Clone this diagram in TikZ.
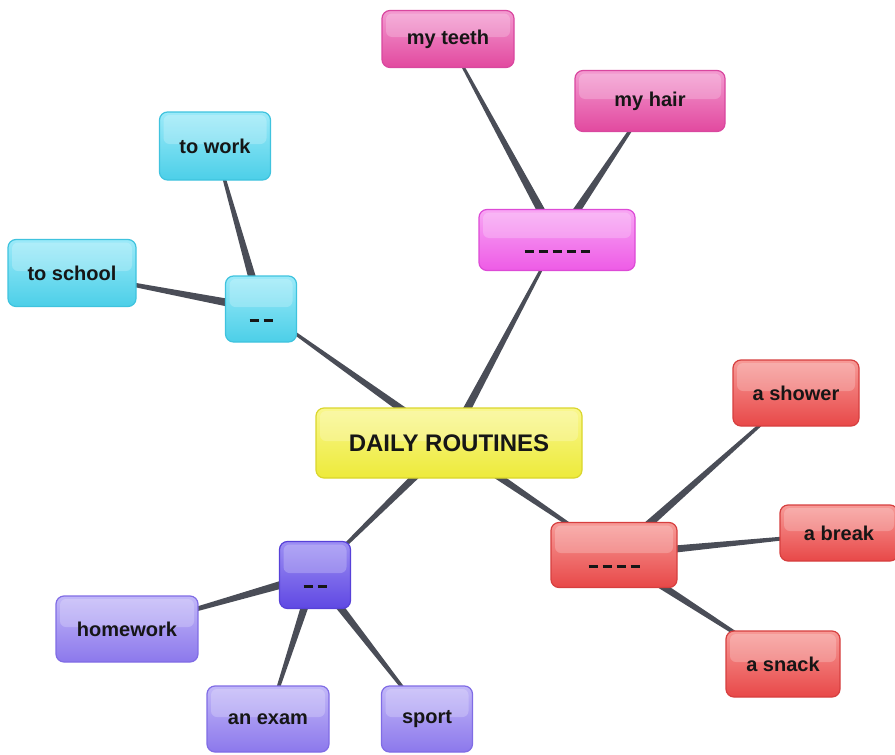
\documentclass[tikz,border=0pt]{standalone}
\usepackage{fontspec}
\setmainfont{Liberation Sans}
\usetikzlibrary{calc,backgrounds}
\definecolor{linkcol}{HTML}{4A4D57}
\definecolor{txtcol}{HTML}{161616}
\definecolor{yelT}{HTML}{F9F78E}\definecolor{yelB}{HTML}{EDEA3A}\definecolor{yelD}{HTML}{DAD62C}
\definecolor{pcT}{HTML}{F8A6F4}\definecolor{pcB}{HTML}{EE5BE6}\definecolor{pcD}{HTML}{DD4BD6}
\definecolor{plT}{HTML}{F39AD0}\definecolor{plB}{HTML}{E2499F}\definecolor{plD}{HTML}{D9479F}
\definecolor{cyT}{HTML}{9CEAF9}\definecolor{cyB}{HTML}{4CCFE8}\definecolor{cyD}{HTML}{3FC3DE}
\definecolor{rdT}{HTML}{F79A97}\definecolor{rdB}{HTML}{E84848}\definecolor{rdD}{HTML}{D63F3F}
\definecolor{pucT}{HTML}{9D8FF3}\definecolor{pucB}{HTML}{5F48E3}\definecolor{pucD}{HTML}{5741D8}
\definecolor{pulT}{HTML}{C2B8F8}\definecolor{pulB}{HTML}{8C78EC}\definecolor{pulD}{HTML}{806CE5}
\newcommand\blanks[1]{\smash{\foreach \k in {1,...,#1}{\ifnum\k>1\hspace{5pt}\fi\rule[-13pt]{9pt}{3pt}}}}
\tikzset{
  x=1pt,y=-1pt,
  box/.style n args={3}{rounded corners=8pt, line width=1.2pt, draw=#3,
    top color=#1, bottom color=#2, inner sep=0pt, text=txtcol,
    font=\bfseries\fontsize{20}{24}\selectfont,
    path picture={\fill[white,opacity=0.22,rounded corners=6pt]
      ([xshift=4pt,yshift=-3pt]path picture bounding box.north west) rectangle
      ([xshift=-4pt,yshift=2pt]path picture bounding box.east);}},
  yel/.style={box={yelT}{yelB}{yelD}},
  pinkc/.style={box={pcT}{pcB}{pcD}},
  pinkl/.style={box={plT}{plB}{plD}},
  cyan/.style={box={cyT}{cyB}{cyD}},
  redc/.style={box={rdT}{rdB}{rdD}},
  purc/.style={box={pucT}{pucB}{pucD}},
  purl/.style={box={pulT}{pulB}{pulD}},
}
\newcommand\taper[2]{%
  \fill[linkcol] ($(#1.center)!4.5pt!90:(#2.center)$) -- ($(#1.center)!4.5pt!-90:(#2.center)$)
    -- ($(#2.center)!1pt!90:(#1.center)$) -- ($(#2.center)!1pt!-90:(#1.center)$) -- cycle;}
\begin{document}
\begin{tikzpicture}
\useasboundingbox (0,0) rectangle (895,755);
% centre
\node[yel, minimum width=266, minimum height=70, font=\bfseries\fontsize{24}{28}\selectfont] (c) at (449,443) {DAILY ROUTINES};
% pink branch
\node[pinkc, minimum width=156, minimum height=61] (p) at (557,240) {\blanks{5}};
\node[pinkl, minimum width=132, minimum height=57] (teeth) at (448,39) {my teeth};
\node[pinkl, minimum width=150, minimum height=61] (hair) at (650,101) {my hair};
% cyan branch
\node[cyan, minimum width=71, minimum height=66] (cy) at (261,309) {\blanks{2}};
\node[cyan, minimum width=111, minimum height=68] (work) at (215,146) {to work};
\node[cyan, minimum width=128, minimum height=67] (school) at (72,273) {to school};
% red branch
\node[redc, minimum width=126, minimum height=65] (r) at (614,555) {\blanks{4}};
\node[redc, minimum width=126, minimum height=66] (shower) at (796,393) {a shower};
\node[redc, minimum width=118, minimum height=56] (break) at (839,533) {a break};
\node[redc, minimum width=114, minimum height=66] (snack) at (783,664) {a snack};
% purple branch
\node[purc, minimum width=71, minimum height=67] (pu) at (315,575) {\blanks{2}};
\node[purl, minimum width=142, minimum height=66] (hw) at (127,629) {homework};
\node[purl, minimum width=122, minimum height=66] (exam) at (268,719) {an exam};
\node[purl, minimum width=91, minimum height=66] (sport) at (427,719) {sport};
\begin{pgfonlayer}{background}
\taper{c}{p}\taper{c}{cy}\taper{c}{r}\taper{c}{pu}
\taper{p}{teeth}\taper{p}{hair}
\taper{cy}{work}\taper{cy}{school}
\taper{r}{shower}\taper{r}{break}\taper{r}{snack}
\taper{pu}{hw}\taper{pu}{exam}\taper{pu}{sport}
\end{pgfonlayer}
\end{tikzpicture}
\end{document}
